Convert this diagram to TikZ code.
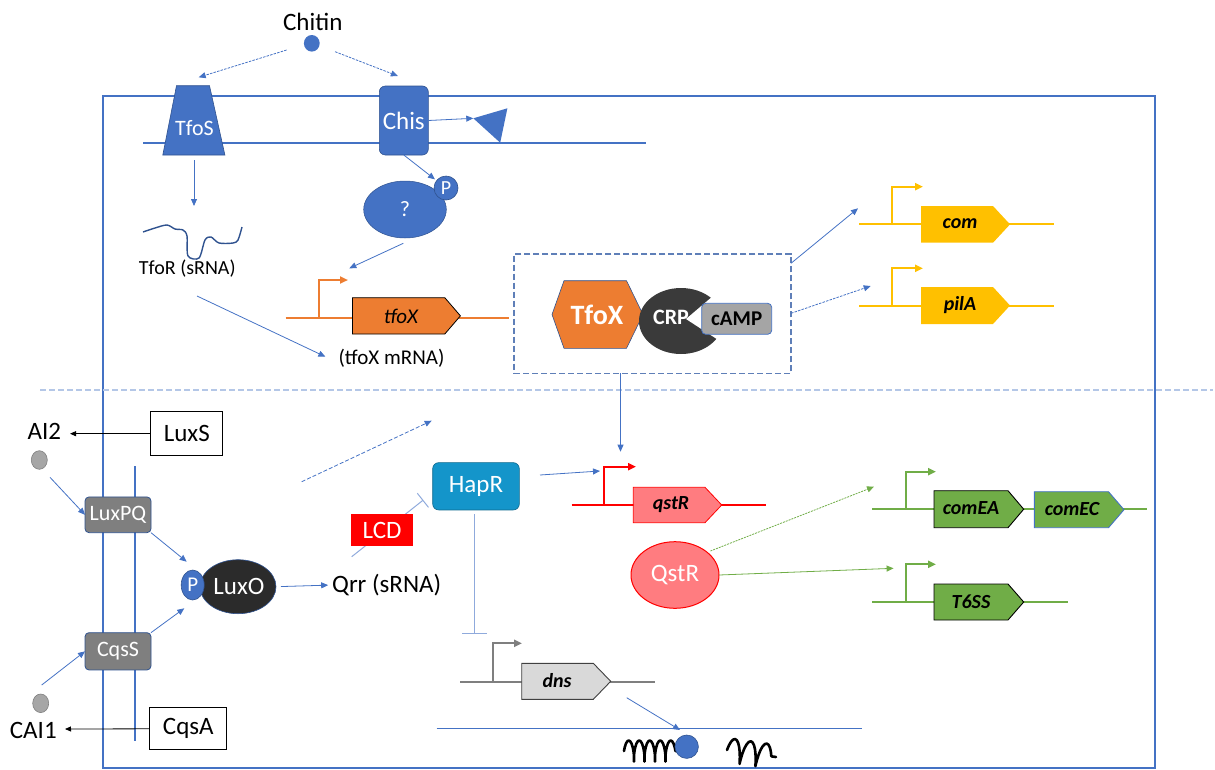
\documentclass[tikz,border=0pt]{standalone}
\usepackage{fontspec}
\setmainfont{Carlito}
\usetikzlibrary{arrows.meta,decorations.pathmorphing,shapes.geometric}
\definecolor{mblue}{HTML}{4472C4}
\definecolor{dblue}{HTML}{2F528F}
\definecolor{lblue}{HTML}{8FAADC}
\definecolor{sepblue}{HTML}{B4C7E7}
\definecolor{boxdash}{HTML}{5F7FB8}
\definecolor{morange}{HTML}{ED7D31}
\definecolor{myellow}{HTML}{FFC000}
\definecolor{mred}{HTML}{FF0000}
\definecolor{mpink}{HTML}{FF7C80}
\definecolor{mgreen}{HTML}{70AD47}
\definecolor{lgreen}{HTML}{A9D18E}
\definecolor{haprc}{HTML}{1495CA}
\definecolor{gboxc}{HTML}{7F7F7F}
\definecolor{dkgray}{HTML}{2B2B2B}
\definecolor{crpgray}{HTML}{3A3A3A}
\definecolor{campgray}{HTML}{A5A5A5}
\definecolor{dnsgray}{HTML}{D9D9D9}
\definecolor{dotgray}{HTML}{A6A6A6}
\definecolor{linegray}{HTML}{7F7F7F}
\newcommand\genepoly[6]{\filldraw[#1] (#2,#5) -- (#3,#5) -- (#4,{(#5+#6)/2}) -- (#3,#6) -- (#2,#6) -- cycle;}
\begin{document}
\begin{tikzpicture}[x=1pt,y=-1pt,
 every node/.style={inner sep=0pt, outer sep=0pt},
 big/.style={font=\fontsize{25}{28}\selectfont},
 mid/.style={font=\fontsize{21}{24}\selectfont},
 sml/.style={font=\fontsize{20}{24}\selectfont},
 gtxt/.style={font=\fontsize{20}{24}\selectfont\bfseries\itshape},
 conn/.style={draw=mblue, line width=0.8pt, -{Triangle[length=7pt,width=6pt]}},
 dconn/.style={conn, dash pattern=on 2.5pt off 1.2pt},
 gconn/.style={draw=mgreen, line width=0.8pt, -{Triangle[length=7pt,width=6pt]}},
 blkarrow/.style={draw=black, line width=0.8pt, -{Triangle[length=6pt,width=5pt]}},
 inhib/.style={draw=lblue, line width=1pt, -{Bar[width=18pt,line width=1pt]}},
 memb/.style={draw=mblue, line width=2pt},
 dna/.style={line width=2pt},
 prom/.style={line width=2pt, -{Triangle[length=8pt,width=7pt]}},
 sensor/.style={rounded corners=4pt, fill=gboxc, draw=dblue, line width=0.8pt, text=white, font=\fontsize{22}{24}\selectfont},
 wbox/.style={draw=black, line width=1pt, fill=white, big},
 coilline/.style={black, line width=2.6pt, line join=round, line cap=round, decorate},
]
\useasboundingbox (0,0) rectangle (1215,769);

% membranes
\draw[memb] (103,95.7) rectangle (1155,767.7);
\draw[memb] (143,143.3) -- (645.6,143.3);
\draw[memb] (135,466) -- (135,740.7);
\draw[draw=mblue, line width=1.2pt] (436.7,728.3) -- (862,728.3);
\draw[sepblue, line width=1.2pt, dash pattern=on 6pt off 3pt] (40,390) -- (1213,390);

% chitin
\node[big] (chitin) at (312.8,21.7) {Chitin};
\node[ellipse, fill=mblue, minimum width=15.8, minimum height=16.6] (chdot) at (311.8,43.3) {};
\coordinate (c1s) at (286.6,50); \coordinate (c1e) at (198.7,77.3);
\coordinate (c2s) at (335.1,51.7); \coordinate (c2e) at (397.9,76);
\draw[dconn] (c1s) -- (c1e);
\draw[dconn] (c2s) -- (c2e);

% TfoS
\filldraw[fill=mblue, draw=dblue, line width=0.6pt] (176.5,85.7) -- (209.5,85.7) -- (224.9,155) -- (162.8,155) -- cycle;
\node[font=\fontsize{22}{24}\selectfont, text=white] (tfos) at (194.5,128.3) {TfoS};
\coordinate (tfosb) at (194,160); \coordinate (tfort) at (194,206);
\draw[conn] (tfosb) -- (tfort);
\draw[dblue, line width=1.4pt] plot[smooth, tension=0.5] coordinates {(143,232) (155,228) (167,225) (175,229) (183,230) (187,236) (188,256) (199,258) (205,240) (211,237) (219,243) (233,243) (238,240) (242,227)};
\node[sml] (tfor) at (187.3,269) {TfoR (sRNA)};

% Chis
\node[rounded corners=6pt, fill=mblue, draw=dblue, line width=0.6pt, minimum width=49, minimum height=69, text=white, big] (chis) at (403.8,120.5) {Chis};
\fill[mblue] (473.3,118.3) -- (507.4,108.3) -- (500.2,142.7) -- cycle;
\coordinate (tri) at (473.3,118.3);
\draw[conn] (chis.east) -- (tri);

% ? and P
\node[ellipse, fill=mblue, draw=dblue, line width=0.5pt, minimum width=82.6, minimum height=57, text=white, font=\fontsize{22}{24}\selectfont] (qm) at (405,209.5) {?};
\node[circle, fill=mblue, draw=dblue, line width=0.6pt, minimum size=24, text=white, font=\fontsize{20}{24}\selectfont] (p1) at (446,188) {P};
\draw[conn, shorten >=2pt] (chis.south) -- (p1);
\coordinate (qs) at (403.3,243.3); \coordinate (pe) at (349.3,268.3);
\draw[conn] (qs) -- (pe);

% tfoX gene
\draw[morange, dna] (285.6,317.7) -- (509,317.7);
\draw[morange, prom] (318.5,317.7) -- (318.5,280) -- (348,280);
\genepoly{fill=morange, draw=black, line width=0.8pt}{352.4}{444.8}{460.4}{297.7}{334}
\node[font=\fontsize{21}{24}\selectfont\itshape] (tfox) at (401,316) {tfoX};
\node[mid] (mrna) at (391.5,358.3) {(tfoX mRNA)};
\coordinate (trs) at (197,296); \coordinate (mre) at (325.4,356.7);
\draw[conn] (trs) -- (mre);

% TfoX-CRP complex
\node[draw=boxdash, line width=1.4pt, dash pattern=on 6pt off 3pt, minimum width=277, minimum height=119.3] (cplx) at (652.5,313.65) {};
\filldraw[fill=morange, draw=dblue, line width=0.6pt] (552,314.5) -- (564,280.7) -- (626.5,280.7) -- (643,314.5) -- (626.5,348.3) -- (564,348.3) -- cycle;
\node[font=\fontsize{28}{30}\selectfont\bfseries, text=white] (tfoxp) at (597,315) {TfoX};
\fill[crpgray] (681,321) ellipse[x radius=42, y radius=33];
\node[font=\fontsize{22}{26}\selectfont\bfseries, text=white] (crp) at (671,317) {CRP};
\fill[white] (686,319) -- (731.8,280) -- (760,280) -- (760,362) -- (749,360) -- cycle;
\node[rounded corners=4pt, fill=campgray, draw=mblue, line width=0.8pt, minimum width=70, minimum height=31, font=\fontsize{21}{24}\selectfont\bfseries] (camp) at (736.7,318.8) {cAMP};

% com / pilA
\coordinate (k1s) at (791,263.3); \coordinate (k1e) at (858,208.3);
\coordinate (k2s) at (791,313.3); \coordinate (k2e) at (870.7,286);
\draw[conn] (k1s) -- (k1e);
\draw[dconn] (k2s) -- (k2e);
\draw[myellow, dna] (859,224.3) -- (1054,224.3);
\draw[myellow, prom] (892,224.3) -- (892,186.7) -- (923,186.7);
\genepoly{fill=myellow, draw=none}{921}{993}{1010}{206}{242.7}
\node[gtxt] (com) at (960,223.5) {com};
\draw[myellow, dna] (859,306) -- (1054,306);
\draw[myellow, prom] (892,306) -- (892,268.3) -- (923,268.3);
\genepoly{fill=myellow, draw=none}{921}{993}{1010}{287}{324}
\node[gtxt] (pila) at (960,305.5) {pilA};

% quorum sensing left
\node[big] (ai2) at (44.3,431.7) {AI2};
\node[wbox, minimum width=71.7, minimum height=44] (luxs) at (186.8,433.7) {LuxS};
\coordinate (ai2e) at (70,433.7);
\draw[blkarrow] (luxs.west) -- (ai2e);
\node[ellipse, fill=dotgray, draw=gray, line width=0.6pt, minimum width=16, minimum height=18.6] (ai2dot) at (39.3,460) {};
\node[sensor, minimum width=66, minimum height=35.7] (luxpq) at (118,514.8) {LuxPQ};
\coordinate (a2s) at (50,477.3);
\draw[conn] (a2s) -- (luxpq.west);
\node[ellipse, fill=dkgray, draw=dblue, line width=0.6pt, minimum width=76, minimum height=54, text=white, big] (luxo) at (238,586.7) {\hspace*{2pt}LuxO};
\node[ellipse, fill=mblue, draw=dblue, line width=0.6pt, minimum width=23, minimum height=30, text=white, font=\fontsize{21}{24}\selectfont] (p2) at (192.7,585) {P};
\coordinate (lxo1) at (186.7,561.7);
\draw[conn] (luxpq.south east) -- (lxo1);
\node[sensor, minimum width=66, minimum height=37.3] (cqss) at (118,651.3) {CqsS};
\coordinate (cqe) at (184.3,608.3);
\draw[conn] (cqss.north east) -- (cqe);
\node[ellipse, fill=dotgray, draw=gray, line width=0.6pt, minimum width=16, minimum height=18.6] (cai1dot) at (40.7,703.3) {};
\coordinate (c1a) at (41.7,685);
\draw[conn] (c1a) -- (cqss.west);
\node[big] (cai1) at (33.3,730.7) {CAI1};
\node[wbox, minimum width=76.7, minimum height=42.3] (cqsa) at (188.3,728.8) {CqsA};
\coordinate (cai1e) at (65,729);
\draw[blkarrow] (cqsa.west) -- (cai1e);

\node[big] (qrr) at (386.7,585) {Qrr (sRNA)};
\draw[conn, shorten <=5pt, shorten >=4pt] (luxo.east) -- (qrr.west);
\coordinate (qri) at (351.7,556.7); \coordinate (hpi) at (423.3,500);
\draw[inhib] (qri) -- (hpi);
\node[fill=mred, minimum width=62.6, minimum height=32, text=white, big] (lcd) at (382,530) {LCD};
\coordinate (ds1) at (301.7,481.7); \coordinate (ds2) at (431.7,420.7);
\draw[conn, dash pattern=on 4pt off 2pt] (ds1) -- (ds2);

% HapR
\node[rounded corners=6pt, fill=haprc, draw=haprc!70!black, line width=0.6pt, minimum width=86.6, minimum height=47.3, text=white, big] (hapr) at (476,486.3) {HapR};
\coordinate (hq1) at (540,475); \coordinate (hq2) at (600,471);
\draw[conn] (hq1) -- (hq2);
\coordinate (hd1) at (474,514); \coordinate (hd2) at (474,634.3);
\draw[draw=lblue, line width=1pt, -{Bar[width=25pt,line width=1pt]}] (hd1) -- (hd2);
\coordinate (cpd) at (620.5,373.3); \coordinate (qtop) at (620.5,451.7);
\draw[conn] (cpd) -- (qtop);

% qstR
\draw[mred, dna] (571.7,505) -- (765.7,505);
\draw[mred, prom] (604.3,505) -- (604.3,466.7) -- (636,466.7);
\genepoly{fill=mpink, draw=mred, line width=0.8pt}{633.3}{705}{721.7}{487.3}{522.7}
\node[gtxt] (qstr) at (671,504.5) {qstR};
\node[ellipse, fill=mpink, draw=mred, line width=1pt, minimum width=88, minimum height=66.6, text=white, big] (qstrp) at (675,575) {QstR};
\coordinate (g1s) at (710.4,551); \coordinate (g1e) at (874,486.7);
\coordinate (g2e) at (893.6,568.3);
\draw[gconn, dash pattern=on 2pt off 1pt] (g1s) -- (g1e);
\draw[gconn] (qstrp.east) -- (g2e);

% comEA/comEC
\draw[mgreen, dna] (872,509.3) -- (1147,509.3);
\draw[mgreen, prom] (905.5,509.3) -- (905.5,471.7) -- (936,471.7);
\genepoly{fill=mgreen, draw=black, line width=0.9pt}{934}{1008}{1023.7}{490.7}{527.7}
\node[gtxt] (comea) at (971,508.5) {comEA};
\genepoly{fill=mgreen, draw=mblue, line width=0.9pt}{1034.4}{1108.5}{1124}{491.7}{527.7}
\node[gtxt] (comec) at (1072,509) {comEC};
% T6SS
\draw[mgreen, dna] (872,602.3) -- (1068,602.3);
\draw[mgreen, prom] (905.5,602.3) -- (905.5,564.3) -- (936,564.3);
\genepoly{fill=mgreen, draw=black, line width=0.9pt}{934}{1008}{1023.7}{584}{620}
\node[gtxt] (t6ss) at (971,601.5) {T6SS};

% dns
\draw[linegray, dna] (460,681.7) -- (655,681.7);
\draw[linegray, prom] (493.3,681.7) -- (493.3,643.3) -- (522,643.3);
\genepoly{fill=dnsgray, draw=black!75, line width=0.9pt}{521.7}{593.3}{610.7}{663.3}{699.3}
\node[gtxt] (dns) at (557,680.5) {dns};
\coordinate (dn1) at (626.7,697.7); \coordinate (dn2) at (680,730);
\draw[conn] (dn1) -- (dn2);

% coils and ball
\draw[coilline, decoration={coil, aspect=0.2, segment length=10.5pt, amplitude=10.5pt}] (624,751) -- (678,751);
\draw[coilline, decoration={coil, aspect=0.2, segment length=16pt, amplitude=12pt}] (727,750) -- (776,757);
\node[circle, fill=mblue, draw=dblue, line width=0.6pt, minimum size=23.4] (ball) at (686.7,746.7) {};
\end{tikzpicture}
\end{document}
